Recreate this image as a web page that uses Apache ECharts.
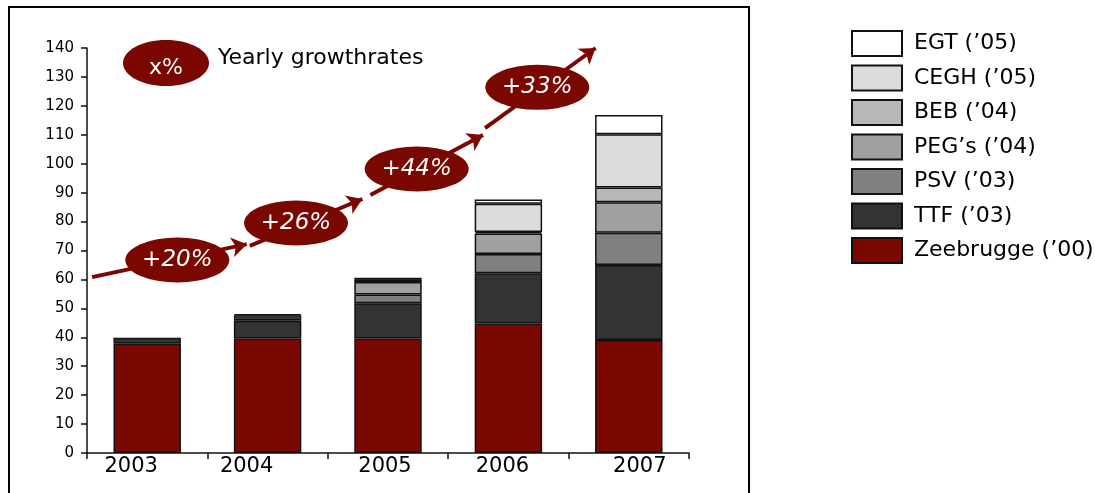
<!DOCTYPE html>
<html>
<head>
<meta charset="utf-8">
<script src="https://cdn.jsdelivr.net/npm/echarts@6/dist/echarts.min.js"></script>
<style>
  html, body { margin: 0; padding: 0; background: #ffffff; }
  #chart { width: 1095px; height: 493px; }
</style>
</head>
<body>
<div id="chart"></div>
<script>
// ---- data ----
const years = ['2003', '2004', '2005', '2006', '2007'];
const zeebrugge = [37.8, 39.6, 39.6, 44.8, 39.1];
const ttf       = [2.0, 6.1, 12.2, 17.3, 25.9];
const psv       = [0, 0.7, 3.0, 6.7, 11.1];
const pegs      = [0, 1.2, 4.3, 7.1, 10.6];
const beb       = [0, 0.4, 0.9, 0.5, 5.1];
const cegh      = [0, 0, 0.3, 9.8, 18.4];
const egt       = [0, 0, 0.1, 1.4, 6.6];
const seriesNames = ['Zeebrugge (\u201900)', 'TTF (\u201903)', 'PSV (\u201903)', 'PEG\u2019s (\u201904)', 'BEB (\u201904)', 'CEGH (\u201905)', 'EGT (\u201905)'];
const growthLabels = ['+20%', '+26%', '+44%', '+33%'];
const yMin = 0, yMax = 140, yStep = 10;

// ---- annotation placement (data units on a hidden value x axis, -0.5..4.5) ----
const growthAt = [[0.25, 66.7], [1.236, 79.5], [2.238, 98.2], [3.24, 126.4]];
const arrowSegs = [
  [[-0.458, 60.8], [0.827, 72.2]],
  [[0.852, 71.6], [1.787, 87.8]],
  [[1.854, 89.2], [2.789, 109.9]],
  [[2.806, 112.3], [3.724, 140.0]]
];

// ---- styles ----
const colors = ['#7B0800', '#333333', '#808080', '#A0A0A0', '#B8B8B8', '#DCDCDC', '#FFFFFF'];
const RED = '#7B0800';
const FONT = 'DejaVu Sans';
const labelShift = [-16, -21, -3, -6, 11];

const valueSets = [zeebrugge, ttf, psv, pegs, beb, cegh, egt];

const barSeries = valueSets.map((vals, i) => ({
  name: seriesNames[i],
  type: 'bar',
  stack: 'total',
  barWidth: '56%',
  xAxisIndex: 0,
  yAxisIndex: 0,
  itemStyle: { color: colors[i], borderColor: '#111111', borderWidth: 1.5 },
  data: vals.map(v => (v > 0 ? v : null)),
  z: 2
}));

const option = {
  animation: false,
  backgroundColor: '#ffffff',
  grid: { left: 87, right: 406, top: 48, bottom: 40, containLabel: false },
  xAxis: [
    {
      type: 'category',
      data: years.map((y, i) => {
        const d = labelShift[i];
        return { value: y, textStyle: { padding: d < 0 ? [0, -2 * d, 0, 0] : [0, 0, 0, 2 * d] } };
      }),
      boundaryGap: true,
      axisLine: { show: true, onZero: false, lineStyle: { color: '#111', width: 1.5 } },
      axisTick: { show: true, inside: false, length: 6, interval: 0, alignWithLabel: false, lineStyle: { color: '#111', width: 1.5 } },
      axisLabel: { interval: 0, color: '#000', fontFamily: FONT, fontSize: 21, margin: 3 },
      splitLine: { show: false }
    },
    {
      type: 'value', min: -0.5, max: 4.5, show: false,
      axisLine: { show: false, onZero: false },
      splitLine: { show: false }
    }
  ],
  yAxis: [{
    type: 'value',
    min: yMin, max: yMax, interval: yStep,
    axisLine: { show: true, onZero: false, lineStyle: { color: '#111', width: 1.5 } },
    axisTick: { show: true, inside: false, length: 6, lineStyle: { color: '#111', width: 1.5 } },
    axisLabel: { color: '#000', fontFamily: FONT, fontSize: 15, margin: 13 },
    splitLine: { show: false }
  }],
  legend: {
    orient: 'vertical',
    left: 846,
    top: 25,
    itemWidth: 50,
    itemHeight: 25,
    itemGap: 7.5,
    icon: 'rect',
    data: seriesNames.slice().reverse(),
    textStyle: { color: '#000', fontFamily: FONT, fontSize: 22, lineHeight: 25, padding: [0, 0, 0, 7] },
    selectedMode: false
  },
  graphic: [
    { type: 'rect', shape: { x: 9, y: 7, width: 740, height: 520 }, style: { fill: 'none', stroke: '#000', lineWidth: 2 }, z: 0 },
    { type: 'ellipse', shape: { cx: 166, cy: 63, rx: 43, ry: 23 }, style: { fill: RED }, z: 10 },
    { type: 'text', x: 166, y: 68, style: { text: 'x%', fill: '#fff', font: '22px "DejaVu Sans"', align: 'center', verticalAlign: 'middle' }, z: 11 },
    { type: 'text', x: 218, y: 58, style: { text: 'Yearly growthrates', fill: '#000', font: '22px "DejaVu Sans"', align: 'left', verticalAlign: 'middle' }, z: 11 }
  ],
  series: barSeries.concat([
    {
      type: 'lines',
      coordinateSystem: 'cartesian2d',
      xAxisIndex: 1,
      yAxisIndex: 0,
      clip: false,
      silent: true,
      symbol: ['none', 'arrow'],
      symbolSize: 15,
      lineStyle: { color: RED, width: 4, opacity: 1, curveness: 0 },
      data: arrowSegs.map(s => ({ coords: s })),
      z: 5
    },
    {
      type: 'scatter',
      xAxisIndex: 1,
      yAxisIndex: 0,
      clip: false,
      silent: true,
      symbol: 'circle',
      symbolSize: [104, 45],
      itemStyle: { color: RED, opacity: 1 },
      label: {
        show: true, position: 'inside',
        formatter: p => growthLabels[p.dataIndex],
        color: '#fff', fontFamily: FONT, fontStyle: 'italic', fontSize: 23
      },
      data: growthAt,
      z: 6
    }
  ])
};

const chart = echarts.init(document.getElementById('chart'), null, { renderer: 'canvas' });
chart.setOption(option);
</script>
</body>
</html>
